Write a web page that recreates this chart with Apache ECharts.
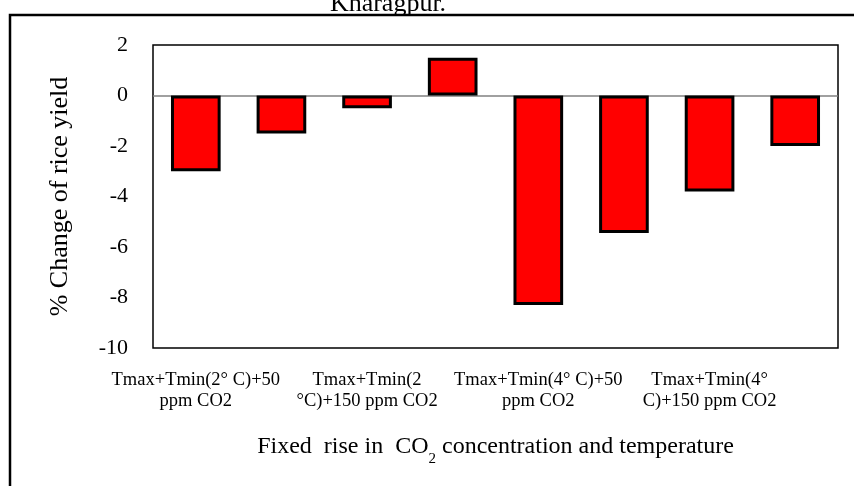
<!DOCTYPE html>
<html>
<head>
<meta charset="utf-8">
<script src="https://cdn.jsdelivr.net/npm/echarts@6/dist/echarts.min.js"></script>
<style>html,body{margin:0;padding:0;background:#fff}#c{width:854px;height:486px}</style>
</head>
<body>
<div id="c"></div>
<script>
// Data
var categories = [
  'Tmax+Tmin(2° C)+50\nppm CO2',
  'Tmax+Tmin(2° C)+100 ppm CO2',
  'Tmax+Tmin(2\n°C)+150 ppm CO2',
  'Tmax+Tmin(2° C)+200 ppm CO2',
  'Tmax+Tmin(4° C)+50\nppm CO2',
  'Tmax+Tmin(4° C)+100 ppm CO2',
  'Tmax+Tmin(4°\nC)+150 ppm CO2',
  'Tmax+Tmin(4° C)+200 ppm CO2'
];
var yieldChange = [-3.0, -1.5, -0.5, 1.5, -8.3, -5.45, -3.8, -2.0];
var yTicks = [-10, -8, -6, -4, -2, 0, 2];
var titleText = 'Kharagpur.';
var yTitle = '% Change of rice yield';
var FONT = 'Liberation Serif';

var chart = echarts.init(document.getElementById('c'), null, {renderer: 'canvas'});
chart.setOption({
  animation: false,
  backgroundColor: '#fff',
  grid: {left: 153, right: 16, top: 45, bottom: 138, show: true, borderColor: '#000', borderWidth: 1.5, backgroundColor: 'transparent'},
  graphic: [
    {type: 'rect', shape: {x: 10, y: 15, width: 1000, height: 1000}, style: {fill: 'none', stroke: '#000', lineWidth: 2.5}, z: 0},
    {type: 'text', x: 388, y: 17, style: {text: titleText, font: '26px "Liberation Serif"', fill: '#000', textAlign: 'center', textVerticalAlign: 'bottom'}, z: 10}
  ],
  xAxis: {
    type: 'category',
    data: categories,
    axisLine: {onZero: false, show: false},
    axisTick: {show: false},
    axisLabel: {interval: 1, margin: 22, fontFamily: FONT, fontSize: 18.5, color: '#000', lineHeight: 21, align: 'center'},
    name: 'Fixed  rise in  CO{sub|2} concentration and temperature',
    nameLocation: 'middle',
    nameGap: 87,
    nameTextStyle: {fontFamily: FONT, fontSize: 24, color: '#000', verticalAlign: 'top',
      rich: {sub: {fontFamily: FONT, fontSize: 15, color: '#000', verticalAlign: 'bottom', padding: [0, 0, -8, 0]}}}
  },
  yAxis: {
    type: 'value',
    min: -10, max: 2, interval: 2,
    axisLine: {show: false},
    axisTick: {show: false},
    splitLine: {show: false},
    axisLabel: {margin: 25, fontFamily: FONT, fontSize: 22, color: '#000',
      formatter: function (v) { return yTicks.indexOf(v) >= 0 ? String(v) : ''; }},
    name: yTitle,
    nameLocation: 'middle',
    nameGap: 80,
    nameTextStyle: {fontFamily: FONT, fontSize: 26, color: '#000'}
  },
  series: [{
    type: 'bar',
    data: yieldChange,
    barCategoryGap: '42%',
    itemStyle: {color: '#ff0000', borderColor: '#000', borderWidth: 3},
    markLine: {
      silent: true, symbol: 'none', z: 1,
      label: {show: false},
      lineStyle: {color: '#808080', type: 'solid', width: 1.5},
      data: [{yAxis: 0}]
    }
  }]
});
</script>
</body>
</html>
